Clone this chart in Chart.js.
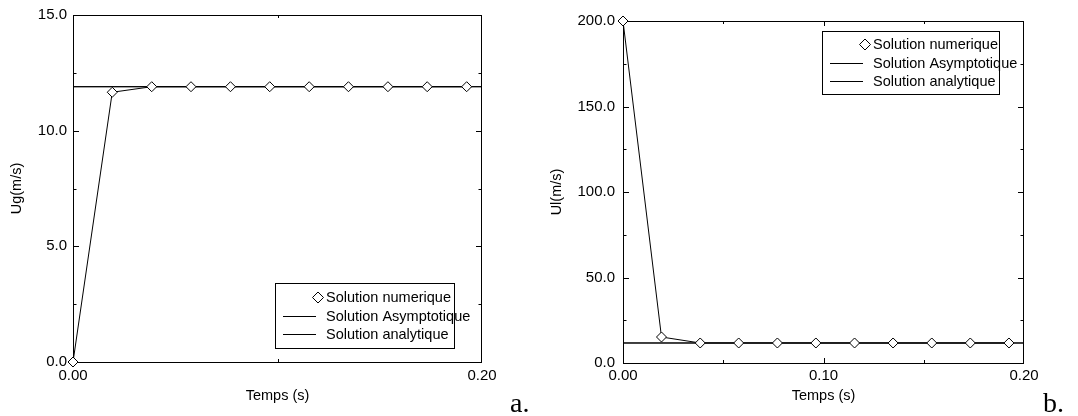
<!DOCTYPE html>
<html><head><meta charset="utf-8">
<script src="https://cdn.jsdelivr.net/npm/chart.js@4/dist/chart.umd.min.js"></script>
<style>
html,body{margin:0;padding:0;background:#fff;}
#wrap{position:relative;width:1078px;height:416px;overflow:hidden;}
#ca{position:absolute;left:0;top:0;}
#cb{position:absolute;left:540px;top:0;}
</style></head><body>
<div id="wrap"><canvas id="ca" width="540" height="416"></canvas><canvas id="cb" width="538" height="416"></canvas></div>
<script>
// ---------- data ----------
const seriesNames = ['Solution numerique', 'Solution Asymptotique', 'Solution analytique'];

// panel a : gas velocity
const timeA = [0, 0.0192, 0.0385, 0.0577, 0.0770, 0.0962, 0.1155, 0.1347, 0.1540, 0.1732, 0.1925];
const ugNumerique = [0, 11.66, 11.9, 11.9, 11.9, 11.9, 11.9, 11.9, 11.9, 11.9, 11.9];
const lineTime = [0, 0.2];
const ugAsymptotique = [11.9, 11.9];
const ugAnalytique = [11.9, 11.9];

// panel b : liquid velocity
const timeB = [0, 0.0192, 0.0385, 0.0577, 0.0770, 0.0962, 0.1155, 0.1347, 0.1540, 0.1732, 0.1925];
const ulNumerique = [200, 15.2, 11.7, 11.7, 11.7, 11.7, 11.7, 11.7, 11.7, 11.7, 11.7];
const ulAsymptotique = [11.7, 11.7];
const ulAnalytique = [11.7, 11.7];

// tick labels and tick marks
const xLabelsA = [0, 0.2];
const xMajorA = [];
const xMinorA = [0.1];
const yLabelsA = [0, 5, 10, 15];
const yMinorA = [2.5, 7.5, 12.5];

const xLabelsB = [0, 0.1, 0.2];
const xMajorB = [0.1];
const xMinorB = [0.05, 0.15];
const yLabelsB = [0, 50, 100, 150, 200];
const yMinorB = [25, 75, 125, 175];

// ---------- helpers ----------
const SANS = "'Liberation Sans', Arial, Helvetica, sans-serif";
const toXY = (xs, ys) => xs.map((x, i) => ({x: x, y: ys[i]}));

function diamond(ctx, x, y, r) {
  ctx.beginPath();
  ctx.moveTo(x, y - r); ctx.lineTo(x + r, y); ctx.lineTo(x, y + r); ctx.lineTo(x - r, y); ctx.closePath();
  ctx.fillStyle = '#fff'; ctx.fill();
  ctx.lineWidth = 1; ctx.strokeStyle = '#000'; ctx.stroke();
}

const frameTicks = {
  id: 'frameTicks',
  beforeDatasetsDraw(chart, args, o) {
    const {ctx, chartArea: a, scales: {x, y}} = chart;
    ctx.save();
    ctx.strokeStyle = '#000'; ctx.lineWidth = 1;
    ctx.strokeRect(Math.round(a.left) + 0.5, Math.round(a.top) + 0.5, Math.round(a.right - a.left) - 1, Math.round(a.bottom - a.top));
    const mark = (vals, len, horiz) => {
      vals.forEach(v => {
        ctx.beginPath();
        if (horiz) {
          const px = Math.round(x.getPixelForValue(v)) + 0.5;
          ctx.moveTo(px, a.bottom); ctx.lineTo(px, a.bottom - len);
          ctx.moveTo(px, a.top); ctx.lineTo(px, a.top + len);
        } else {
          const py = Math.round(y.getPixelForValue(v)) + 0.5;
          ctx.moveTo(a.left, py); ctx.lineTo(a.left + len, py);
          ctx.moveTo(a.right, py); ctx.lineTo(a.right - len, py);
        }
        ctx.stroke();
      });
    };
    mark(o.xMajor, 5, true);
    mark(o.xMinor, 3, true);
    mark(o.yMajor, 6, false);
    mark(o.yMinor, 3.5, false);
    ctx.restore();
  }
};

const boxLegend = {
  id: 'boxLegend',
  afterDraw(chart, args, o) {
    const {ctx} = chart;
    ctx.save();
    ctx.fillStyle = '#fff';
    ctx.fillRect(o.left, o.top, o.width, o.height);
    ctx.strokeStyle = '#000'; ctx.lineWidth = 1;
    ctx.strokeRect(o.left + 0.5, o.top + 0.5, o.width, o.height);
    ctx.font = '14.5px ' + SANS;
    ctx.textBaseline = 'middle';
    ctx.textAlign = 'left';
    chart.data.datasets.forEach((ds, i) => {
      const yy = o.top + o.rows[i];
      if (ds.legendSymbol === 'diamond') {
        diamond(ctx, o.left + o.textX - 8, yy + 0.5, 5.5);
      } else {
        ctx.beginPath();
        ctx.strokeStyle = '#000'; ctx.lineWidth = 1;
        ctx.moveTo(o.left + 8, Math.round(yy) + 0.5); ctx.lineTo(o.left + 41, Math.round(yy) + 0.5);
        ctx.stroke();
      }
      ctx.fillStyle = '#000';
      ctx.fillText(ds.label, o.left + o.textX, yy + 1);
    });
    ctx.restore();
  }
};

const panelTag = {
  id: 'panelTag',
  afterDraw(chart, args, o) {
    const {ctx} = chart;
    ctx.save();
    ctx.font = "28px 'Liberation Serif', 'Times New Roman', serif";
    ctx.fillStyle = '#000';
    ctx.textBaseline = 'alphabetic';
    ctx.fillText(o.text, o.x, o.y);
    ctx.restore();
  }
};

function makeDatasets(t, num, asym, ana) {
  return [
    {label: seriesNames[0], data: toXY(t, num), legendSymbol: 'diamond', showLine: true,
     borderColor: '#000', borderWidth: 1, pointStyle: 'rectRot', pointRadius: 5, pointBorderWidth: 1,
     pointBackgroundColor: '#fff', pointBorderColor: '#000', clip: false},
    {label: seriesNames[1], data: toXY(lineTime, asym), legendSymbol: 'line', showLine: true,
     borderColor: '#000', borderWidth: 1, pointRadius: 0, clip: false},
    {label: seriesNames[2], data: toXY(lineTime, ana), legendSymbol: 'line', showLine: true,
     borderColor: '#000', borderWidth: 1, pointRadius: 0, clip: false}
  ];
}

function makeOptions(c) {
  return {
    responsive: false, animation: false, devicePixelRatio: 1,
    layout: {padding: {left: 0, top: c.padTop, right: c.padRight, bottom: 0}},
    plugins: {
      legend: {display: false}, tooltip: {enabled: false},
      frameTicks: {xMajor: c.xMajor, xMinor: c.xMinor, yMajor: c.yLabels, yMinor: c.yMinor},
      boxLegend: c.legend,
      panelTag: c.tag
    },
    scales: {
      x: {
        type: 'linear', min: 0, max: 0.2,
        grid: {display: false, drawTicks: false}, border: {display: false},
        afterBuildTicks: s => { s.ticks = c.xLabels.map(v => ({value: v})); },
        afterFit: s => { s.height = c.xHeight; },
        ticks: {color: '#000', font: {family: SANS, size: 15}, padding: c.xPad, maxRotation: 0, autoSkip: false,
                callback: v => Number(v).toFixed(2)},
        title: {display: true, text: 'Temps (s)', color: '#000', font: {family: SANS, size: 14.5},
                padding: {top: 0, bottom: 11}}
      },
      y: {
        type: 'linear', min: c.yMin, max: c.yMax,
        grid: {display: false, drawTicks: false}, border: {display: false},
        afterBuildTicks: s => { s.ticks = c.yLabels.map(v => ({value: v})); },
        afterFit: s => { s.width = c.yWidth; },
        ticks: {color: '#000', font: {family: SANS, size: 15}, padding: c.yPad, autoSkip: false,
                callback: v => Number(v).toFixed(1)},
        title: {display: true, text: c.yTitle, color: '#000', font: {family: SANS, size: 14.5},
                padding: {top: 8, bottom: 0}}
      }
    }
  };
}

new Chart(document.getElementById('ca'), {
  type: 'scatter',
  data: {datasets: makeDatasets(timeA, ugNumerique, ugAsymptotique, ugAnalytique)},
  options: makeOptions({
    padTop: 12, padRight: 58, yWidth: 73, xHeight: 54, xPad: 5, yPad: 6,
    yMin: 0, yMax: 15, yTitle: 'Ug(m/s)',
    xLabels: xLabelsA, xMajor: xMajorA, xMinor: xMinorA, yLabels: yLabelsA, yMinor: yMinorA,
    legend: {left: 275, top: 283, width: 179, height: 65, rows: [14, 33, 51], textX: 51},
    tag: {text: 'a.', x: 510, y: 412}
  }),
  plugins: [frameTicks, boxLegend, panelTag]
});

new Chart(document.getElementById('cb'), {
  type: 'scatter',
  data: {datasets: makeDatasets(timeB, ulNumerique, ulAsymptotique, ulAnalytique)},
  options: makeOptions({
    padTop: 21, padRight: 54, yWidth: 83, xHeight: 53, xPad: 4, yPad: 8,
    yMin: 0, yMax: 200, yTitle: 'Ul(m/s)',
    xLabels: xLabelsB, xMajor: xMajorB, xMinor: xMinorB, yLabels: yLabelsB, yMinor: yMinorB,
    legend: {left: 282, top: 31, width: 177, height: 63, rows: [13, 32, 50], textX: 51},
    tag: {text: 'b.', x: 503, y: 412}
  }),
  plugins: [frameTicks, boxLegend, panelTag]
});
</script>
</body></html>
